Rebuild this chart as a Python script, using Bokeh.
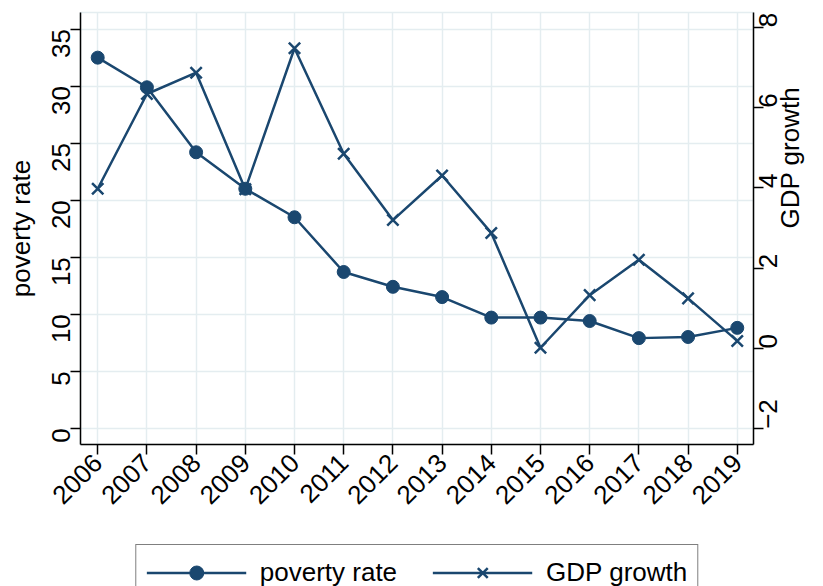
import math
from bokeh.plotting import figure
from bokeh.layouts import column
from bokeh.models import Range1d, LinearAxis, FixedTicker, Legend, LegendItem
from bokeh.embed import file_html
from bokeh.resources import INLINE

years = [2006, 2007, 2008, 2009, 2010, 2011, 2012, 2013, 2014, 2015, 2016, 2017, 2018, 2019]
poverty_rate = [32.5, 29.9, 24.2, 21.0, 18.5, 13.7, 12.4, 11.5, 9.7, 9.7, 9.4, 7.9, 8.0, 8.8]
gdp_growth = [3.98, 6.34, 6.87, 3.97, 7.48, 4.85, 3.2, 4.31, 2.88, 0.02, 1.33, 2.21, 1.25, 0.19]
left_ticks = [0, 5, 10, 15, 20, 25, 30, 35]
right_ticks = [-2, 0, 2, 4, 6, 8]
left_title = "poverty rate"
right_title = "GDP growth"

NAVY = "#1a476f"
GRID = "#e4edf0"
FONT = "Liberation Sans"
FS = "26px"

x_lo, x_hi = 2005.65, 2019.33
yl_lo, yl_hi = -1.43, 36.46
yr_lo, yr_hi = -2.39, 8.37

p = figure(width=823, height=543,
           x_range=Range1d(x_lo, x_hi), y_range=Range1d(yl_lo, yl_hi),
           output_backend="svg", toolbar_location=None,
           min_border_left=80, min_border_right=70,
           min_border_top=12, min_border_bottom=99,
           background_fill_color="white", border_fill_color="white")
p.outline_line_color = GRID
p.outline_line_width = 1.5

p.extra_y_ranges = {"gdp": Range1d(yr_lo, yr_hi)}
raxis = LinearAxis(y_range_name="gdp")
p.add_layout(raxis, "right")

def style_axis(ax, ticks, orient, standoff):
    ax.ticker = FixedTicker(ticks=ticks)
    ax.minor_tick_line_color = None
    ax.major_tick_in = 0
    ax.major_tick_out = 10
    ax.major_tick_line_width = 1.5
    ax.major_tick_line_color = "black"
    ax.axis_line_width = 1.5
    ax.axis_line_color = "black"
    ax.major_label_text_font = FONT
    ax.major_label_text_font_size = FS
    ax.major_label_text_color = "black"
    ax.major_label_orientation = orient
    ax.major_label_standoff = standoff
    ax.axis_label_text_font = FONT
    ax.axis_label_text_font_size = FS
    ax.axis_label_text_font_style = "normal"
    ax.axis_label_text_color = "black"

style_axis(p.xaxis[0], years, math.pi / 4, 4)
style_axis(p.yaxis[0], left_ticks, math.pi / 2, 9)
style_axis(raxis, right_ticks, math.pi / 2, 5)

p.yaxis[0].axis_label = left_title
p.yaxis[0].axis_label_standoff = 5
raxis.axis_label = right_title
raxis.axis_label_standoff = 0
try:
    raxis.axis_label_orientation = math.pi / 2
except Exception:
    pass

p.xgrid.ticker = FixedTicker(ticks=years)
p.ygrid.ticker = FixedTicker(ticks=left_ticks)
for g in (p.xgrid[0], p.ygrid[0]):
    g.grid_line_color = GRID
    g.grid_line_width = 1.5

p.line(years, poverty_rate, line_color=NAVY, line_width=2.5)
p.scatter(years, poverty_rate, marker="circle", size=13, fill_color=NAVY, line_color=NAVY)
p.line(years, gdp_growth, line_color=NAVY, line_width=2.5, y_range_name="gdp")
p.scatter(years, gdp_growth, marker="x", size=16, line_color=NAVY,
          line_width=2.5, y_range_name="gdp")

# legend strip below the chart (its renderers lie outside its own view, only the legend shows)
q = figure(width=823, height=43, x_range=Range1d(0, 1), y_range=Range1d(0, 1),
           output_backend="svg", toolbar_location=None,
           x_axis_type=None, y_axis_type=None,
           min_border=0, min_border_left=0, min_border_right=0,
           min_border_top=0, min_border_bottom=0,
           background_fill_color="white", border_fill_color="white")
q.outline_line_color = None
q.grid.visible = False
ql1 = q.line(years, poverty_rate, line_color=NAVY, line_width=2.5)
qs1 = q.scatter(years, poverty_rate, marker="circle", size=13, fill_color=NAVY, line_color=NAVY)
ql2 = q.line(years, gdp_growth, line_color=NAVY, line_width=2.5)
qs2 = q.scatter(years, gdp_growth, marker="x", size=12, line_color=NAVY, line_width=2.5)

legend = Legend(items=[LegendItem(label=left_title, renderers=[ql1, qs1]),
                       LegendItem(label=right_title, renderers=[ql2, qs2])],
                orientation="horizontal", location="top",
                glyph_width=100, glyph_height=35, label_height=35,
                label_standoff=14, spacing=35, padding=10, margin=1,
                border_line_color="black", border_line_width=1,
                background_fill_color="white", background_fill_alpha=1,
                label_text_font=FONT, label_text_font_size=FS,
                label_text_baseline="alphabetic",
                label_text_color="black")
q.add_layout(legend, "center")

open("out.html", "w").write(file_html(column(p, q, spacing=0), INLINE))
